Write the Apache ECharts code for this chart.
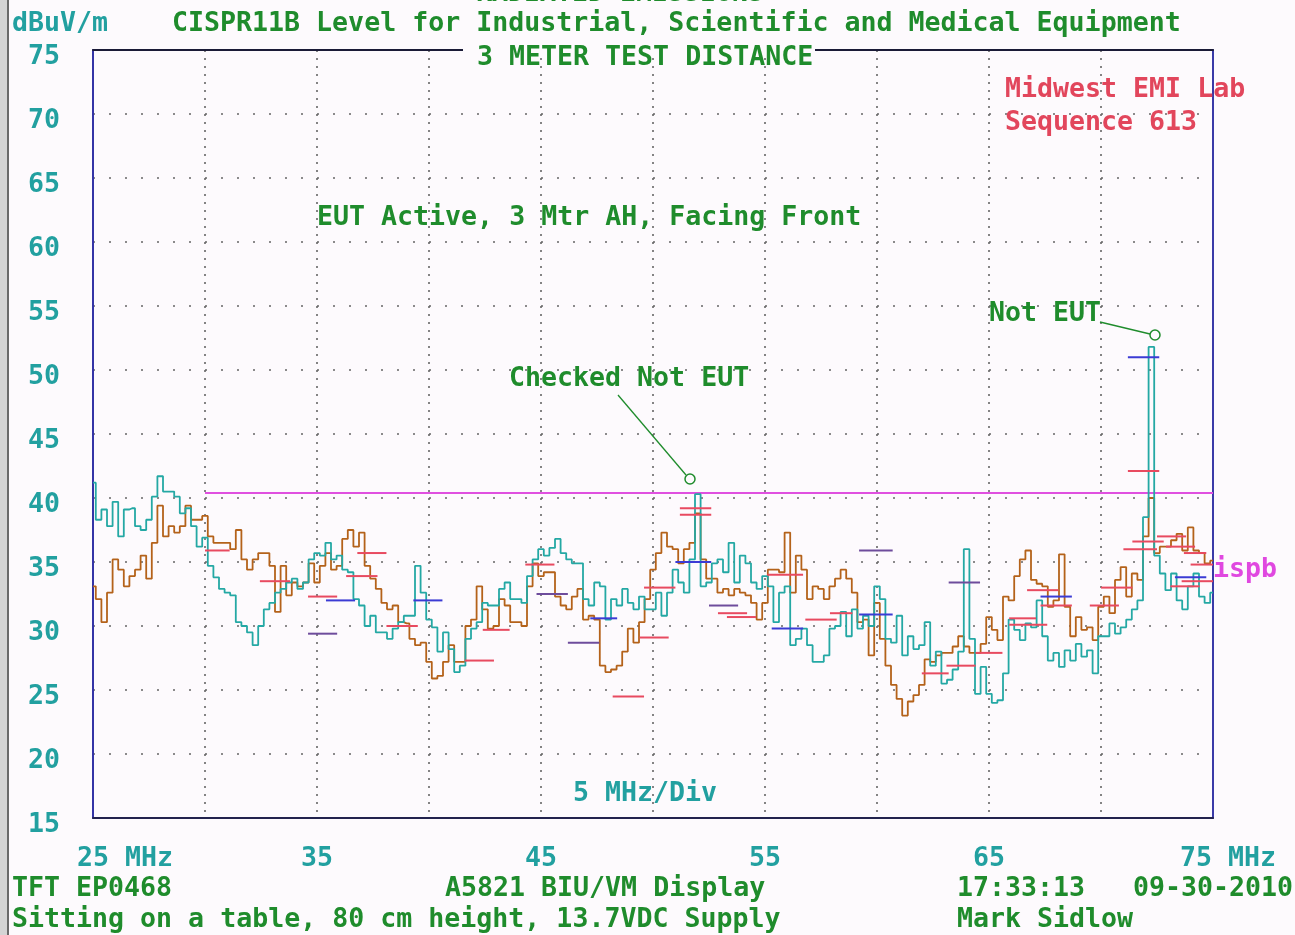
<!DOCTYPE html>
<html><head><meta charset="utf-8">
<script src="https://cdn.jsdelivr.net/npm/echarts@6/dist/echarts.min.js"></script>
<style>html,body{margin:0;padding:0;background:#fdfafd}#c{width:1295px;height:935px}</style>
</head><body><div id="c"></div>
<script>
const freqStart = 25, freqStep = 0.25;
const tealTrace = [41.2,38.3,39.1,37.8,39.7,37.0,39.1,39.2,37.8,37.5,38.3,40.1,41.7,40.5,40.5,40.1,38.8,39.2,37.8,36.2,
36.9,34.7,33.8,32.9,32.6,32.4,30.3,30.0,29.5,28.5,30.0,31.3,31.8,32.6,32.9,33.4,33.7,32.9,33.4,35.2,
35.7,35.5,36.5,35.2,35.5,34.4,34.2,32.1,31.6,30.0,30.8,29.5,29.5,29.0,29.8,30.3,30.8,30.8,34.7,32.6,
30.5,29.9,28.0,29.5,28.2,26.4,26.9,29.0,29.8,30.3,31.8,31.6,31.6,32.9,33.4,32.1,32.1,31.8,33.9,35.2,
36.0,35.5,36.1,36.8,35.7,35.2,34.9,34.9,32.1,31.6,33.4,33.1,30.5,32.1,31.6,32.9,31.8,31.3,32.3,31.3,
31.3,32.6,30.8,32.6,34.4,33.4,32.6,35.2,40.3,33.1,33.4,34.9,35.2,34.2,36.5,33.4,35.5,34.9,33.4,32.9,
33.9,33.1,30.3,32.6,33.1,28.5,29.0,29.8,28.5,27.2,27.2,27.7,29.8,30.0,31.1,29.2,31.3,29.8,30.8,30.0,
33.1,32.1,29.0,28.7,30.8,27.7,29.2,28.2,28.5,30.3,26.9,28.0,25.5,25.8,26.6,28.0,36.0,29.0,24.7,26.8,
24.7,24.0,24.2,26.3,30.5,29.7,28.9,30.2,29.9,32.0,29.2,27.3,27.9,26.8,28.1,27.3,28.6,27.6,28.1,26.3,
29.2,29.2,30.2,29.4,29.9,30.5,31.3,32.0,38.5,51.8,35.5,34.1,32.8,34.1,32.0,31.3,33.1,34.1,32.3,31.8,32.6];
const brownTrace = [33.1,32.1,30.3,32.6,35.2,34.4,33.1,33.9,34.4,35.5,33.7,36.5,39.4,37.0,37.8,37.3,37.8,39.4,38.3,38.3,
38.6,37.0,36.5,36.5,36.5,36.0,37.5,35.2,34.4,35.2,35.7,35.7,34.7,31.1,34.7,32.4,33.4,33.1,33.4,34.9,
33.4,34.7,35.7,34.4,34.7,36.8,37.5,36.2,37.3,34.7,33.7,32.9,31.8,31.3,31.6,30.3,30.2,29.0,28.5,28.7,
27.2,25.9,26.1,27.2,28.5,27.2,27.2,30.0,30.5,33.1,31.3,29.8,30.0,32.1,31.6,30.3,30.3,30.0,33.1,34.9,
33.9,34.2,34.2,32.3,31.6,31.3,32.3,32.9,30.5,30.8,30.5,26.9,26.4,26.6,26.9,28.0,29.8,28.7,30.3,32.1,
34.4,35.7,37.3,36.2,36.0,34.9,36.0,36.5,38.8,35.2,33.7,33.7,32.6,32.9,32.4,32.9,32.6,32.4,31.8,30.5,
31.8,34.4,34.4,34.2,37.3,32.6,35.5,34.4,32.1,33.1,32.9,32.1,33.1,33.7,34.4,33.7,32.6,30.3,30.5,27.7,
31.8,29.0,26.9,25.4,24.3,23.0,24.1,24.6,25.4,27.4,27.2,27.7,27.9,27.9,28.4,29.2,28.4,27.9,27.9,28.6,
30.7,29.7,28.9,32.3,32.0,33.9,35.2,35.9,33.6,33.3,33.1,31.5,32.0,35.6,31.5,29.2,30.7,29.7,29.9,28.9,
31.5,32.3,31.0,33.6,34.6,32.3,34.1,33.6,37.0,40.0,35.7,36.2,36.2,36.7,37.2,35.9,37.7,35.9,35.7,34.9,35.1];
const limitFreq = [30, 75];
const limitLevel = [40.4, 40.4];
// [startMHz, endMHz, level]
const redMarks = [[30.0,31.1,35.9],[32.45,33.8,33.5],[34.6,35.9,32.3],[36.8,38.1,35.7],[36.3,37.7,33.9],[38.1,39.5,30.0],
[41.6,42.9,27.3],[42.4,43.6,29.7],[44.3,45.6,34.8],[48.2,49.6,24.5],[49.4,50.7,29.1],[49.6,51.0,33.0],[51.2,52.6,39.2],
[51.2,52.6,38.7],[52.9,54.2,31.0],[53.3,54.6,30.7],[55.1,56.7,34.0],[56.8,58.2,30.5],[57.9,58.9,31.0],[62.0,63.2,26.3],
[63.1,64.4,26.9],[64.4,65.6,27.9],[65.9,67.1,30.6],[65.9,67.6,30.1],[66.7,68.1,32.8],[67.3,68.7,31.6],[69.5,70.8,31.6],
[70.0,71.4,33.0],[71.2,72.6,42.1],[71.4,72.8,36.6],[71.0,72.5,36.0],[72.5,73.8,37.0],[72.9,74.2,36.2],[73.7,74.7,35.7],
[74.0,75.0,34.8],[73.6,75.0,33.5],[73.1,74.4,33.1]];
const blueMarks = [[35.4,36.7,32.0],[39.3,40.6,32.0],[47.2,48.4,30.6],[51.0,52.6,35.0],[55.3,56.7,29.8],[59.2,60.7,30.9],
[67.3,68.7,32.3],[71.2,72.6,51.0],[73.3,74.7,33.8]];
const purpleMarks = [[34.6,35.9,29.4],[44.8,46.2,32.5],[46.2,47.6,28.7],[52.5,53.8,31.6],[59.2,60.7,35.9],[63.2,64.6,33.4]];
const yTicks = {min: 15, max: 75, step: 5};
const xTicks = {min: 25, max: 75, step: 5};

const FONT = '"DejaVu Sans Mono", "Liberation Mono", monospace';
const FS = 26.6;
const FW = 'bold';
const GREEN = '#1f8c2c', TEAL = '#22a0a0', RED = '#e2465c';

function pairs(vals){ return vals.map((v,i)=>[freqStart + i*freqStep, v]); }
function markSeries(data, color){
  return {type:'custom', data:data, encode:{x:[0,1], y:2}, z:5, silent:true,
    renderItem:function(params, api){
      const a = api.coord([api.value(0), api.value(2)]);
      const b = api.coord([api.value(1), api.value(2)]);
      return {type:'line', shape:{x1:a[0], y1:a[1], x2:b[0], y2:b[1]}, style:{stroke:color, lineWidth:2}};
    }};
}

const chart = echarts.init(document.getElementById('c'), null, {renderer:'canvas'});
const labelTxt = (t, x, y, color, align) => ({type:'text', z:100, style:{text:t, x:x, y:y + 2, fill:color,
  font: FW + ' ' + FS + 'px ' + FONT, textAlign: align || 'left', textVerticalAlign:'middle'}});
const richBase = {color:TEAL, fontFamily:FONT, fontSize:FS, fontWeight:FW};

chart.setOption({
  backgroundColor:'#fdfafd',
  animation:false,
  grid:{left:93, top:50, width:1120, height:768, show:false},
  xAxis:[{type:'value', min:xTicks.min, max:xTicks.max, interval:xTicks.step,
    axisLine:{show:true, lineStyle:{color:'#22224e', width:2}}, axisTick:{show:false},
    splitLine:{show:true, lineStyle:{color:'#666', width:1.6, type:[2,6]}},
    axisLabel:{show:true, margin:28, color:TEAL, fontFamily:FONT, fontSize:FS, fontWeight:FW, showMinLabel:true, showMaxLabel:true,
      formatter:function(v){ if (v===25) return '{a|25 MHz}'; if (v===75) return '{b|75 MHz}'; return (v%10===5)? '{n|' + v + '}' : ''; },
      rich:{a:Object.assign({padding:[0,0,0,64]}, richBase), b:Object.assign({padding:[0,0,0,30]}, richBase), n:richBase}}},
   {type:'value', position:'top', min:xTicks.min, max:xTicks.max, axisLine:{show:true, lineStyle:{color:'#1a1a36', width:2}},
    axisTick:{show:false}, axisLabel:{show:false}, splitLine:{show:false}}],
  yAxis:[{type:'value', min:yTicks.min, max:yTicks.max, interval:yTicks.step,
    axisLine:{show:true, lineStyle:{color:'#3434a6', width:2}}, axisTick:{show:false},
    splitLine:{show:true, lineStyle:{color:'#666', width:1.6, type:[2,14]}},
    axisLabel:{margin:33, color:TEAL, fontFamily:FONT, fontSize:FS, fontWeight:FW,
      formatter:function(v){ return '{v|' + v + '}'; },
      rich:{v:Object.assign({padding:[15,0,0,0]}, richBase)}}},
   {type:'value', position:'right', min:yTicks.min, max:yTicks.max, axisLine:{show:true, lineStyle:{color:'#3a3aa8', width:2}},
    axisTick:{show:false}, axisLabel:{show:false}, splitLine:{show:false}}],
  series:[
    {type:'line', data:limitFreq.map((f,i)=>[f, limitLevel[i]]), symbol:'none', lineStyle:{color:'#e050e0', width:2}, z:2, silent:true},
    {type:'line', data:pairs(brownTrace), symbol:'none', step:'middle', lineStyle:{color:'#b4621a', width:1.8}, z:3, silent:true},
    {type:'line', data:pairs(tealTrace), symbol:'none', step:'middle', lineStyle:{color:'#24a8a4', width:1.8}, z:4, silent:true},
    markSeries(redMarks, '#e84a60'),
    markSeries(blueMarks, '#3b3bd4'),
    markSeries(purpleMarks, '#6e4c9c')
  ],
  graphic:[
    {type:'rect', z:90, shape:{x:0, y:0, width:7, height:935}, style:{fill:'#d4d4d4'}},
    {type:'line', z:90, shape:{x1:8, y1:0, x2:8, y2:935}, style:{stroke:'#6a6a6a', lineWidth:2}},
    {type:'rect', z:95, shape:{x:463, y:44, width:352, height:12}, style:{fill:'#fdfafd'}},
    labelTxt('RADIATED EMISSIONS', 620, -8, GREEN, 'center'),
    labelTxt('dBuV/m', 12, 22, TEAL),
    labelTxt('CISPR11B Level for Industrial, Scientific and Medical Equipment', 172, 22, GREEN),
    labelTxt('3 METER TEST DISTANCE', 477, 56, GREEN),
    labelTxt('Midwest EMI Lab', 1005, 88, RED),
    labelTxt('Sequence 613', 1005, 121, RED),
    labelTxt('EUT Active, 3 Mtr AH, Facing Front', 317, 216, GREEN),
    labelTxt('Not EUT', 989, 312, GREEN),
    labelTxt('Checked Not EUT', 509, 377, GREEN),
    labelTxt('5 MHz/Div', 573, 792, TEAL),
    labelTxt('ispb', 1213, 568, '#e048e0'),
    labelTxt('TFT EP0468', 12, 887, GREEN),
    labelTxt('A5821 BIU/VM Display', 445, 887, GREEN),
    labelTxt('17:33:13', 957, 887, GREEN),
    labelTxt('09-30-2010', 1133, 887, GREEN),
    labelTxt('Sitting on a table, 80 cm height, 13.7VDC Supply', 12, 918, GREEN),
    labelTxt('Mark Sidlow', 957, 918, GREEN),
    {type:'line', z:100, shape:{x1:618, y1:395, x2:686, y2:475}, style:{stroke:GREEN, lineWidth:1.3}},
    {type:'circle', z:100, shape:{cx:690, cy:479, r:5}, style:{fill:'none', stroke:GREEN, lineWidth:1.5}},
    {type:'line', z:100, shape:{x1:1100, y1:322, x2:1150, y2:334}, style:{stroke:GREEN, lineWidth:1.3}},
    {type:'circle', z:100, shape:{cx:1155, cy:335, r:5}, style:{fill:'none', stroke:GREEN, lineWidth:1.5}}
  ]
});
</script></body></html>
